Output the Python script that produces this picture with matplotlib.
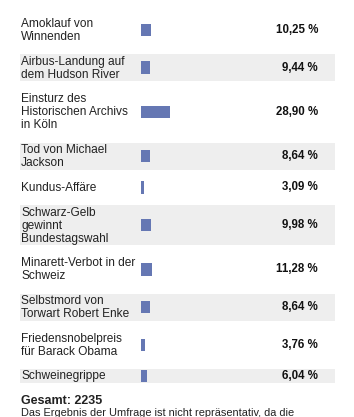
import matplotlib.pyplot as plt

# poll results (German news quiz, 2009)
labels = [
    "Amoklauf von\nWinnenden",
    "Airbus-Landung auf\ndem Hudson River",
    "Einsturz des\nHistorischen Archivs\nin Köln",
    "Tod von Michael\nJackson",
    "Kundus-Affäre",
    "Schwarz-Gelb\ngewinnt\nBundestagswahl",
    "Minarett-Verbot in der\nSchweiz",
    "Selbstmord von\nTorwart Robert Enke",
    "Friedensnobelpreis\nfür Barack Obama",
    "Schweinegrippe",
]
shares = [10.25, 9.44, 28.90, 8.64, 3.09, 9.98, 11.28, 8.64, 3.76, 6.04]
total = 2235
note = "Das Ergebnis der Umfrage ist nicht repräsentativ, da die"

plt.rcParams['font.family'] = ['Liberation Sans', 'DejaVu Sans']

W, H = 354, 417
fig = plt.figure(figsize=(W / 100, H / 100), dpi=100)
ax = fig.add_axes([0, 0, 1, 1])
ax.set_xlim(0, W)
ax.set_ylim(H, 0)
ax.axis('off')

line_h = 13.0
gap = 10.75
top = 16.25
bar_left = 141
px_per_pct = 1.0
fs = 8.6

centers, heights = [], []
for lab in labels:
    n = lab.count("\n") + 1
    h = line_h * n + 1
    centers.append(top + h / 2)
    heights.append(h)
    top += h + gap

# alternating row backgrounds
odd = [i for i in range(len(labels)) if i % 2 == 1]
ax.barh([centers[i] for i in odd], 315, left=20,
        height=[heights[i] for i in odd], color='#eeeeee', linewidth=0)

ax.barh(centers, [v * px_per_pct for v in shares], left=bar_left,
        height=12.5, color='#6577b3', linewidth=0)

for lab, c, h, v in zip(labels, centers, heights, shares):
    lines = lab.split("\n")
    y0 = c - h / 2 + 1 + line_h / 2
    for j, txt in enumerate(lines):
        ax.text(21, y0 + j * line_h, txt, fontsize=fs, color='#222222',
                va='center', ha='left')
    ax.text(318, c, ("%.2f %%" % v).replace(".", ","), fontsize=8.3,
            fontweight='bold', color='#111111', va='center', ha='right')

ax.text(21, 401, "Gesamt: %d" % total, fontsize=9.0, fontweight='bold',
        color='#222222', va='center', ha='left')
ax.text(21, 413.5, note, fontsize=7.9, color='#222222', va='center', ha='left')

fig.savefig("out.png", dpi=100)
